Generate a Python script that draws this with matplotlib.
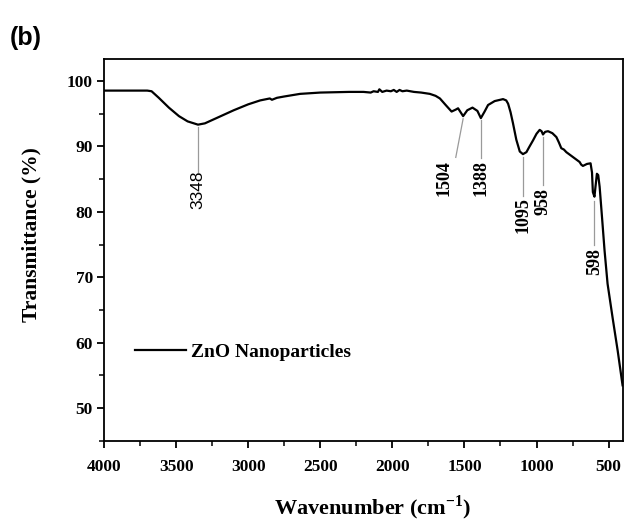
import matplotlib
matplotlib.use("Agg")
import matplotlib.pyplot as plt
from matplotlib.ticker import MultipleLocator

plt.rcParams["mathtext.fontset"] = "custom"
plt.rcParams["mathtext.bf"] = "Liberation Serif:bold"
plt.rcParams["mathtext.rm"] = "Liberation Serif:bold"

# FTIR spectrum of ZnO nanoparticles
wavenumber = [4000, 3800, 3700, 3670, 3620, 3550, 3480, 3420, 3348, 3300, 3200, 3100,
              3000, 2917, 2850, 2835, 2800, 2750, 2640, 2500, 2300, 2200, 2150, 2130,
              2100, 2090, 2070, 2040, 2010, 1990, 1970, 1950, 1930, 1900, 1850, 1800,
              1740, 1700, 1670, 1630, 1589, 1560, 1544, 1509, 1480, 1444, 1410, 1386,
              1360, 1336, 1290, 1232, 1210, 1197, 1180, 1163, 1140, 1116, 1094, 1070,
              1050, 1024, 1000, 978, 965, 955, 940, 920, 890, 862, 845, 828, 810, 793,
              750, 701, 690, 678, 650, 625, 615, 609, 598, 590, 581, 572, 562, 545,
              528, 507, 472, 437, 403]
transmittance = [98.5, 98.5, 98.5, 98.4, 97.4, 95.9, 94.6, 93.8, 93.3, 93.5, 94.5, 95.5,
                 96.4, 97.0, 97.3, 97.1, 97.4, 97.6, 98.0, 98.2, 98.3, 98.3, 98.2, 98.4,
                 98.3, 98.7, 98.3, 98.5, 98.4, 98.6, 98.3, 98.6, 98.4, 98.5, 98.3, 98.2,
                 98.0, 97.7, 97.3, 96.3, 95.3, 95.6, 95.8, 94.6, 95.5, 95.9, 95.4, 94.3,
                 95.3, 96.3, 96.9, 97.2, 97.0, 96.5, 95.2, 93.5, 91.0, 89.2, 88.8, 89.1,
                 89.9, 90.9, 91.9, 92.5, 92.3, 91.8, 92.2, 92.3, 92.0, 91.4, 90.6, 89.7,
                 89.5, 89.1, 88.4, 87.6, 87.2, 87.0, 87.3, 87.4, 86.0, 83.0, 82.3, 84.0,
                 85.8, 85.6, 83.8, 79.0, 74.1, 69.0, 63.8, 58.8, 53.5]

# peak labels: (label, line x0, line y0, line x1, line y1, text x, text y)
peaks = [
    ("1504", 1509, 94.2, 1560, 88.3, 1643, 85.1),
    ("1388", 1386, 94.0, 1386, 88.2, 1385, 85.2),
    ("1095", 1094, 88.4, 1094, 82.4, 1094, 79.5),
    ("958", 955, 91.4, 955, 84.1, 955, 81.6),
    ("598", 598, 81.7, 598, 74.9, 598, 72.4),
]
oh_peak = ("3348", 3348, 92.9, 3348, 86.0, 3348, 83.3)

serif = "Liberation Serif"
sans = "Liberation Sans"

fig = plt.figure(figsize=(6.25, 5.21), dpi=100)
ax = fig.add_axes([0.1664, 0.1536, 0.8304, 0.7341])

ax.plot(wavenumber, transmittance, color="black", lw=1.6, label="ZnO Nanoparticles")

ax.set_xlim(4000, 400)
ax.set_ylim(45, 103.4)
ax.xaxis.set_major_locator(MultipleLocator(500))
ax.xaxis.set_minor_locator(MultipleLocator(250))
ax.yaxis.set_minor_locator(MultipleLocator(5))
ax.set_yticks(range(50, 101, 10))
ax.tick_params(which="major", direction="out", length=5, width=1.3, pad=3)
ax.tick_params(which="minor", direction="out", length=3.5, width=1.1)
for s in ax.spines.values():
    s.set_linewidth(1.3)
for lbl in ax.get_xticklabels() + ax.get_yticklabels():
    lbl.set_fontfamily(serif)
    lbl.set_fontweight("bold")
    lbl.set_fontsize(12.5)
ax.tick_params(axis="x", pad=8)

ax.set_ylabel("Transmittance (%)", fontfamily=serif, fontweight="bold", fontsize=15.5)
ax.yaxis.set_label_coords(-0.12, 0.539)
ax.set_xlabel("Wavenumber (cm$^{\\mathbf{-1}}$)", fontfamily=serif, fontweight="bold",
              fontsize=16)
ax.xaxis.set_label_coords(0.518, -0.138)

lab, x0, y0, x1, y1, tx, ty = oh_peak
ax.plot([x0, x1], [y0, y1], color="#9a9a9a", lw=0.9)
ax.text(tx, ty, lab, rotation=90, ha="center", va="center", fontfamily=sans, fontsize=12.5)

for lab, x0, y0, x1, y1, tx, ty in peaks:
    ax.plot([x0, x1], [y0, y1], color="#9a9a9a", lw=0.9)
    ax.text(tx, ty, lab, rotation=90, ha="center", va="center", fontfamily=serif,
            fontweight="bold", fontsize=13)

ax.legend(loc="center left", bbox_to_anchor=(0.0597, 0.233), frameon=False,
          handlelength=2.6, handletextpad=0.3, borderpad=0, borderaxespad=0,
          prop={"family": serif, "weight": "bold", "size": 14})

fig.text(0.016, 0.914, "(b)", fontfamily=sans, fontweight="bold", fontsize=18)

fig.savefig("out.png", dpi=100)
